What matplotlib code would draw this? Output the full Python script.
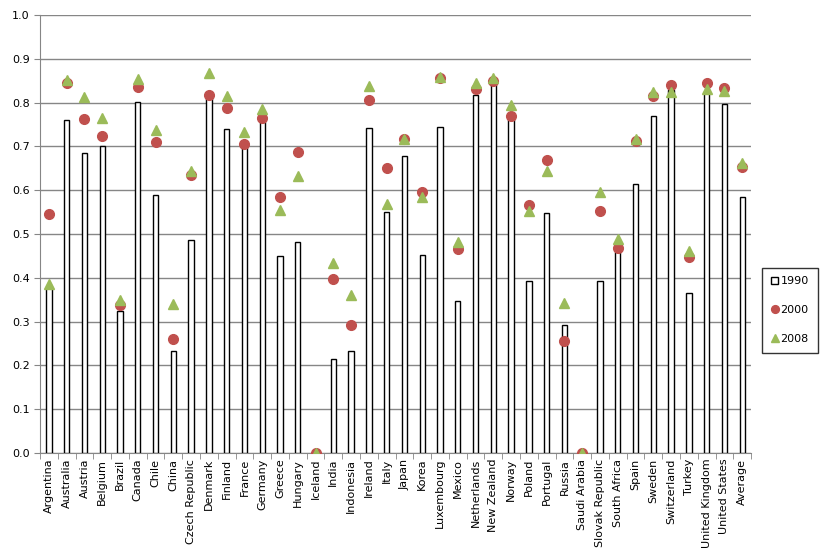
import numpy as np
import matplotlib
matplotlib.use("Agg")
import matplotlib.pyplot as plt

countries = [
    "Argentina", "Australia", "Austria", "Belgium", "Brazil", "Canada", "Chile",
    "China", "Czech Republic", "Denmark", "Finland", "France", "Germany", "Greece",
    "Hungary", "Iceland", "India", "Indonesia", "Ireland", "Italy", "Japan", "Korea",
    "Luxembourg", "Mexico", "Netherlands", "New Zealand", "Norway", "Poland",
    "Portugal", "Russia", "Saudi Arabia", "Slovak Republic", "South Africa", "Spain",
    "Sweden", "Switzerland", "Turkey", "United Kingdom", "United States", "Average",
]
v1990 = [0.380, 0.760, 0.685, 0.700, 0.325, 0.802, 0.590, 0.232, 0.487, 0.812,
         0.740, 0.700, 0.757, 0.450, 0.482, 0.000, 0.215, 0.234, 0.743, 0.550,
         0.678, 0.453, 0.745, 0.348, 0.818, 0.845, 0.762, 0.392, 0.548, 0.293,
         0.000, 0.394, 0.459, 0.614, 0.770, 0.830, 0.365, 0.822, 0.797, 0.584]
v2000 = [0.545, 0.845, 0.762, 0.725, 0.338, 0.835, 0.710, 0.260, 0.635, 0.817,
         0.788, 0.705, 0.765, 0.585, 0.688, 0.000, 0.397, 0.293, 0.805, 0.652,
         0.717, 0.595, 0.857, 0.465, 0.832, 0.850, 0.770, 0.567, 0.670, 0.255,
         0.000, 0.553, 0.468, 0.712, 0.815, 0.840, 0.447, 0.845, 0.833, 0.653]
v2008 = [0.385, 0.852, 0.812, 0.765, 0.350, 0.853, 0.738, 0.340, 0.643, 0.867,
         0.815, 0.733, 0.785, 0.555, 0.633, 0.000, 0.433, 0.362, 0.838, 0.568,
         0.717, 0.585, 0.858, 0.482, 0.845, 0.857, 0.795, 0.552, 0.643, 0.343,
         0.000, 0.595, 0.488, 0.717, 0.825, 0.825, 0.462, 0.832, 0.827, 0.663]

x = np.arange(len(countries))

fig = plt.figure(figsize=(8.23, 5.58), dpi=100)
ax = fig.add_axes([0.0486, 0.188, 0.864, 0.785])

b = ax.bar(x, v1990, width=0.3, color="white", edgecolor="black", linewidth=1.0,
           label="1990", zorder=3)
l1, = ax.plot(x, v2000, "o", color="#C0504D", markersize=7, label="2000", zorder=4)
l2, = ax.plot(x, v2008, "^", color="#9BBB59", markersize=7, label="2008", zorder=5)

ax.set_xlim(-0.5, len(countries) - 0.5)
ax.set_ylim(0, 1.0)
ax.set_yticks(np.arange(0, 1.01, 0.1))
ax.set_yticklabels([f"{t:.1f}" for t in np.arange(0, 1.01, 0.1)], fontsize=8)
ax.yaxis.grid(True, color="#868686", linewidth=1.0, zorder=0)
ax.set_axisbelow(True)

ax.set_xticks(x)
ax.set_xticklabels(countries, rotation=90, fontsize=8)
ax.set_xticks(np.arange(-0.5, len(countries)), minor=True)
ax.tick_params(axis="x", which="major", length=0, pad=4)
ax.tick_params(axis="x", which="minor", length=4, color="#868686", direction="out")
ax.tick_params(axis="y", length=4, color="#868686", direction="out")

for side in ["top", "right"]:
    ax.spines[side].set_visible(False)
for side in ["left", "bottom"]:
    ax.spines[side].set_color("#868686")

leg = ax.legend([b, l1, l2], ["1990", "2000", "2008"],
                loc="center left", bbox_to_anchor=(1.015, 0.326), fontsize=8,
                frameon=True, fancybox=False, edgecolor="black",
                handlelength=0.7, handleheight=0.7, handletextpad=0.2,
                labelspacing=1.7, borderpad=0.8, borderaxespad=0,
                markerscale=0.8)
leg.get_frame().set_linewidth(1.0)

fig.savefig("out.png", dpi=100)
